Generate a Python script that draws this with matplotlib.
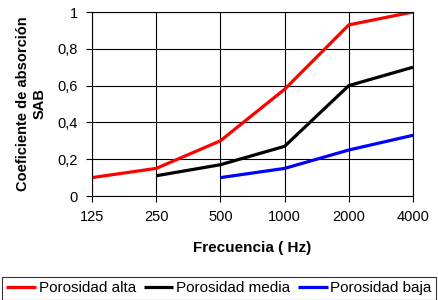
import matplotlib
matplotlib.use("Agg")
import matplotlib.pyplot as plt
import numpy as np

plt.rcParams['font.family'] = ['Liberation Sans', 'DejaVu Sans']

freqs = ["125", "250", "500", "1000", "2000", "4000"]
alta = [0.10, 0.15, 0.30, 0.58, 0.93, 1.00]
media = [None, 0.11, 0.17, 0.27, 0.60, 0.70]
baja = [None, None, 0.10, 0.15, 0.25, 0.33]
series_names = ["Porosidad alta", "Porosidad media", "Porosidad baja"]
colors = ["#ff0000", "#000000", "#0000ff"]

fig = plt.figure(figsize=(4.38, 3.0), dpi=100)
ax = fig.add_axes([92/438, 1 - 196/300, (413-92)/438, (196-12)/300])

x = np.arange(len(freqs))
for vals, name, c in zip([alta, media, baja], series_names, colors):
    xs = [xi for xi, v in zip(x, vals) if v is not None]
    ys = [v for v in vals if v is not None]
    ax.plot(xs, ys, color=c, lw=2.3, label=name, solid_capstyle='butt')

ax.set_xlim(0, len(freqs) - 1)
ax.set_ylim(0, 1)
ax.set_xticks(x)
ax.set_xticklabels(freqs)
ax.set_yticks([0, 0.2, 0.4, 0.6, 0.8, 1.0])
ax.set_yticklabels(["0", "0,2", "0,4", "0,6", "0,8", "1"])
ax.grid(True, color='black', lw=0.8)
for s in ax.spines.values():
    s.set_color('black')
    s.set_linewidth(0.8)
ax.tick_params(direction='out', length=4, width=0.8, labelsize=10.5, pad=6)
ax.set_xlabel("Frecuencia ( Hz)", fontsize=11, fontweight='bold', labelpad=12)
ax.set_ylabel("Coeficiente de absorción\nSAB", fontsize=10.5, fontweight='bold', labelpad=8)

leg = fig.legend(loc='lower center', bbox_to_anchor=(0.5, 0.0), ncol=3,
                 fontsize=11, frameon=True, fancybox=False, edgecolor='black',
                 handlelength=1.95, handletextpad=0.18, columnspacing=0.5,
                 borderpad=0.3, borderaxespad=0.0)
leg.get_frame().set_linewidth(0.8)

fig.savefig("out.png", dpi=100)
